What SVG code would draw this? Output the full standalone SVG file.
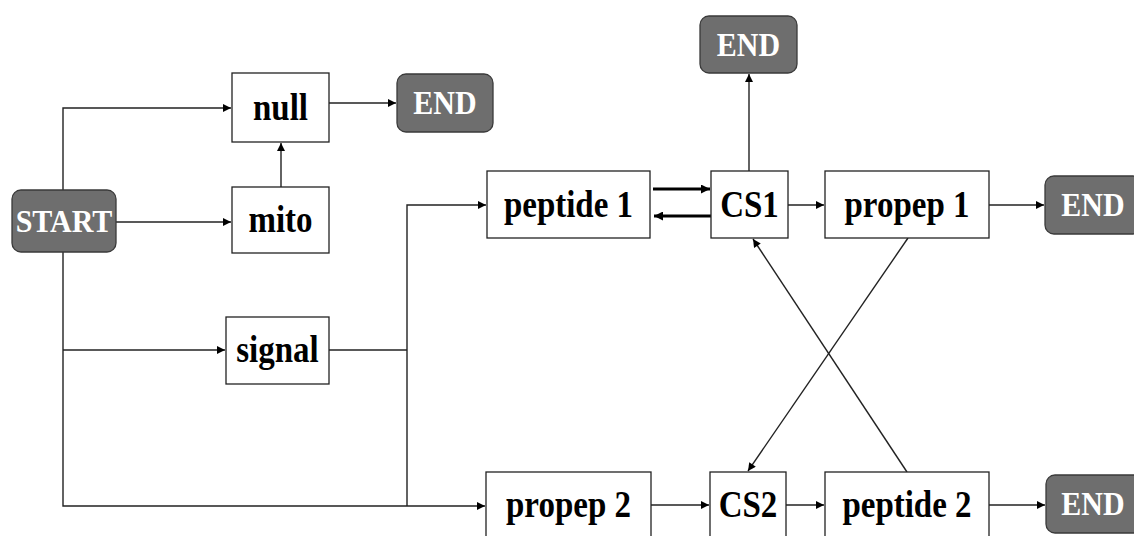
<svg xmlns="http://www.w3.org/2000/svg" width="1134" height="536" viewBox="0 0 1134 536">
<style>
.box{fill:#fff;stroke:#222;stroke-width:1.3}
.term{fill:#6e6e6e;stroke:#3a3a3a;stroke-width:1.3}
.lbl{font-family:"Liberation Serif","Times New Roman",serif;font-weight:bold;font-size:33px;fill:#000;text-anchor:middle}
.tl{font-family:"Liberation Serif","Times New Roman",serif;font-weight:bold;font-size:30px;fill:#fff;text-anchor:middle}
.c{fill:none;stroke:#222;stroke-width:1.4}
.thick{fill:none;stroke:#000;stroke-width:3}
</style>
<defs>
<marker id="ah" viewBox="0 0 10 10" refX="10" refY="5" markerWidth="10" markerHeight="8" markerUnits="userSpaceOnUse" orient="auto">
<path d="M0,0 L10,5 L0,10 z" fill="#000"/>
</marker>
<marker id="ahb" viewBox="0 0 10 10" refX="10" refY="5" markerWidth="12" markerHeight="9" markerUnits="userSpaceOnUse" orient="auto">
<path d="M0,0 L10,5 L0,10 z" fill="#000"/>
</marker>
</defs>
<rect width="1134" height="536" fill="#fff"/>
<g id="connectors">
<path class="c" d="M63,190 V108 H231" marker-end="url(#ah)"/>
<path class="c" d="M116,222 H231" marker-end="url(#ah)"/>
<path class="c" d="M281,187 V143" marker-end="url(#ah)"/>
<path class="c" d="M329,103 H396" marker-end="url(#ah)"/>
<path class="c" d="M63,252 V506 H485" marker-end="url(#ah)"/>
<path class="c" d="M63,350 H225" marker-end="url(#ah)"/>
<path class="c" d="M329,350 H407"/>
<path class="c" d="M407,506 V205 H486" marker-end="url(#ah)"/>
<path class="thick" d="M653,189 H710" marker-end="url(#ahb)"/>
<path class="thick" d="M711,216 H654" marker-end="url(#ahb)"/>
<path class="c" d="M749,171 V74" marker-end="url(#ah)"/>
<path class="c" d="M788,205 H824" marker-end="url(#ah)"/>
<path class="c" d="M989,205 H1044" marker-end="url(#ah)"/>
<path class="c" d="M908,238 L748,471" marker-end="url(#ah)"/>
<path class="c" d="M907,472 L753,239" marker-end="url(#ah)"/>
<path class="c" d="M651,505 H709" marker-end="url(#ah)"/>
<path class="c" d="M786,505 H824" marker-end="url(#ah)"/>
<path class="c" d="M989,505 H1045" marker-end="url(#ah)"/>
</g>
<g id="start"><rect class="term" x="12" y="190" width="104" height="62" rx="9"/><text class="tl" transform="matrix(1 0 0 1.05 64 232)">START</text></g>
<g id="null"><rect class="box" x="232" y="73" width="97" height="69"/><text class="lbl" transform="matrix(1 0 0 1.15 280.5 120)">null</text></g>
<g id="mito"><rect class="box" x="232" y="187" width="97" height="66"/><text class="lbl" transform="matrix(1 0 0 1.15 280.5 232)">mito</text></g>
<g id="signal"><rect class="box" x="226" y="317" width="103" height="67"/><text class="lbl" transform="matrix(1 0 0 1.15 277.5 362)">signal</text></g>
<g id="end1"><rect class="term" x="397" y="74" width="96" height="58" rx="9"/><text class="tl" transform="matrix(1 0 0 1.1 445 114)">END</text></g>
<g id="end2"><rect class="term" x="700" y="16" width="97" height="57" rx="9"/><text class="tl" transform="matrix(1 0 0 1.1 748.5 56)">END</text></g>
<g id="peptide1"><rect class="box" x="487" y="171" width="163" height="67"/><text class="lbl" transform="matrix(1 0 0 1.15 568.5 217)">peptide 1</text></g>
<g id="cs1"><rect class="box" x="711" y="171" width="77" height="67"/><text class="lbl" transform="matrix(1 0 0 1.15 749.5 217)">CS1</text></g>
<g id="propep1"><rect class="box" x="825" y="171" width="164" height="67"/><text class="lbl" transform="matrix(1 0 0 1.15 907 217)">propep 1</text></g>
<g id="end3"><rect class="term" x="1045" y="176" width="97" height="58" rx="9"/><text class="tl" transform="matrix(1 0 0 1.1 1093 216)">END</text></g>
<g id="propep2"><rect class="box" x="486" y="472" width="165" height="68"/><text class="lbl" transform="matrix(1 0 0 1.15 568.5 517)">propep 2</text></g>
<g id="cs2"><rect class="box" x="710" y="472" width="76" height="68"/><text class="lbl" transform="matrix(1 0 0 1.15 748 517)">CS2</text></g>
<g id="peptide2"><rect class="box" x="825" y="472" width="164" height="68"/><text class="lbl" transform="matrix(1 0 0 1.15 907 517)">peptide 2</text></g>
<g id="end4"><rect class="term" x="1046" y="475" width="97" height="58" rx="9"/><text class="tl" transform="matrix(1 0 0 1.1 1093 515)">END</text></g>
</svg>
